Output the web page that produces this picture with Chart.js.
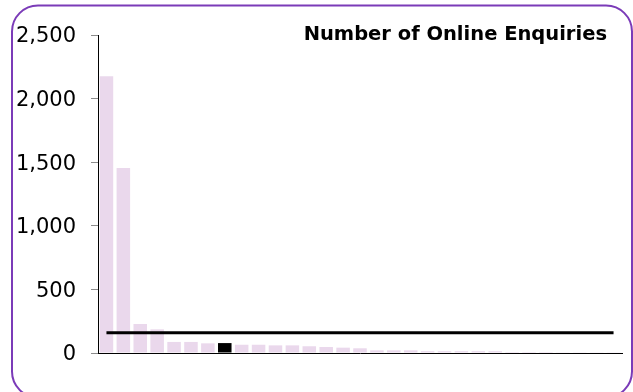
<!DOCTYPE html>
<html>
<head>
<meta charset="utf-8">
<script src="https://cdn.jsdelivr.net/npm/chart.js@4.4.1/dist/chart.umd.min.js"></script>
<style>
    html, body { margin: 0; padding: 0; background: #fff; }
    #wrap { width: 633px; height: 392px; position: relative; }
</style>
</head>
<body>
<div id="wrap"><canvas id="enquiries"></canvas></div>
<script>
// Online enquiries per site, sorted high to low
const categories = [
    "1", "2", "3", "4", "5", "6", "7", "8", "9", "10",
    "11", "12", "13", "14", "15", "16", "17", "18", "19", "20",
    "21", "22", "23", "24", "25", "26", "27", "28", "29", "30", "31",
];
const enquiries = [
    2175, 1455, 228, 186, 87, 87, 76, 78, 65, 65,
    60, 60, 53, 47, 42, 37, 21, 21, 21, 14,
    14, 14, 14, 14, 8, 8, 8, 2, 2, 2, 2,
];
const averageEnquiries = 160;
const highlightIndex = 7;
const yTicks = [0, 500, 1000, 1500, 2000, 2500];

const FONT = "'DejaVu Sans', Verdana, sans-serif";
const barFill = "#ead8ec";

// Rounded purple frame and the heading, drawn straight on the canvas
const framePlugin = {
    id: "frame",
    beforeDraw(chart) {
        const ctx = chart.ctx;
        ctx.save();
        ctx.fillStyle = "#fff";
        ctx.fillRect(0, 0, chart.width, chart.height);
        ctx.restore();
    },
    afterDraw(chart) {
        const ctx = chart.ctx;
        ctx.save();
        ctx.strokeStyle = "#7b3bb8";
        ctx.lineWidth = 2;
        ctx.beginPath();
        ctx.roundRect(12, 5.5, 620, 392, 26);
        ctx.stroke();

        ctx.fillStyle = "#000";
        ctx.font = `bold 19.5px ${FONT}`;
        ctx.textAlign = "right";
        ctx.textBaseline = "alphabetic";
        ctx.fillText("Number of Online Enquiries", 607, 39.5);
        ctx.restore();
    },
};

new Chart(document.getElementById("enquiries"), {
    data: {
        labels: categories,
        datasets: [
            {
                type: "line",
                data: categories.map(() => averageEnquiries),
                borderColor: "#000",
                borderWidth: 3,
                pointRadius: 0,
                order: 0,
            },
            {
                type: "bar",
                data: enquiries,
                backgroundColor: enquiries.map((v, i) =>
                    i === highlightIndex ? "#000" : barFill,
                ),
                categoryPercentage: 1,
                barPercentage: 0.8,
                order: 1,
            },
        ],
    },
    options: {
        responsive: true,
        maintainAspectRatio: false,
        animation: false,
        layout: {
            padding: { left: 0, top: 35, right: 11, bottom: 39 },
        },
        plugins: {
            legend: { display: false },
            tooltip: { enabled: false },
        },
        scales: {
            x: {
                grid: { display: false },
                ticks: { display: false },
                border: { display: true, color: "#000", width: 1 },
                afterFit(scale) {
                    scale.height = 0;
                },
            },
            y: {
                min: 0,
                max: 2500,
                afterBuildTicks(scale) {
                    scale.ticks = yTicks.map((v) => ({ value: v }));
                },
                afterFit(scale) {
                    scale.width = 98;
                },
                grid: {
                    drawOnChartArea: false,
                    drawTicks: true,
                    tickLength: 7,
                    color: "#8c8c8c",
                },
                border: { display: true, color: "#000", width: 1 },
                ticks: {
                    padding: 15,
                    labelOffset: 2,
                    color: "#000",
                    font: { family: FONT, size: 21 },
                },
            },
        },
    },
    plugins: [framePlugin],
});
</script>
</body>
</html>
